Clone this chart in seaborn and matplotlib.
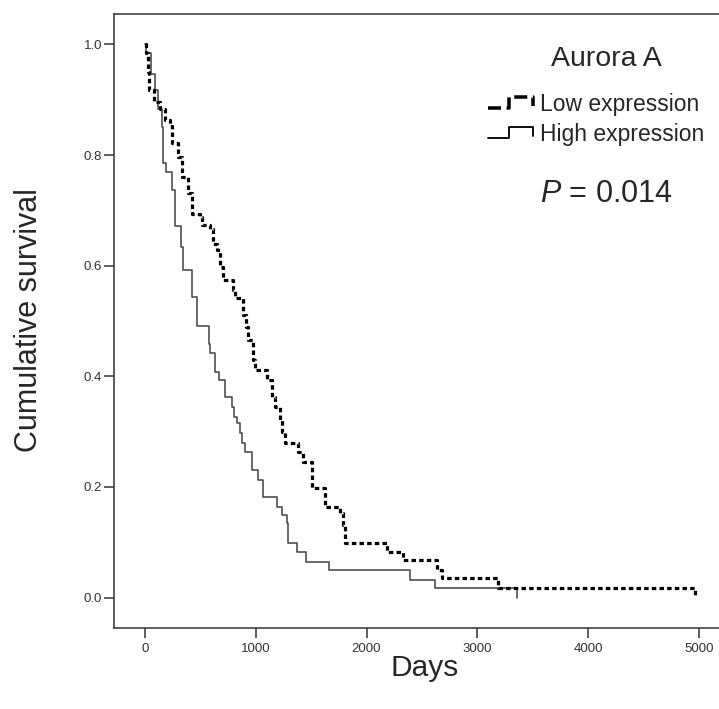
import numpy as np
import pandas as pd
import matplotlib
matplotlib.use("Agg")
import matplotlib.pyplot as plt
import seaborn as sns
from matplotlib.legend_handler import HandlerBase
from matplotlib.lines import Line2D

# ---------------- data ----------------
low_days = [0, 5, 25, 39, 81, 135, 180, 226, 241, 300, 331, 391, 421, 496, 512,
            587, 616, 647, 677, 707, 797, 812, 887, 910, 932, 977, 993, 1098,
            1143, 1173, 1218, 1233, 1264, 1384, 1429, 1504, 1624, 1760, 1790,
            1805, 2181, 2331, 2633, 2678, 3189, 4964]
low_surv = [1.0, 0.984, 0.95, 0.917, 0.896, 0.884, 0.863, 0.852, 0.821, 0.797,
            0.761, 0.731, 0.694, 0.688, 0.673, 0.667, 0.640, 0.628, 0.598, 0.574,
            0.556, 0.541, 0.511, 0.49, 0.466, 0.429, 0.411, 0.393, 0.363, 0.345,
            0.321, 0.300, 0.279, 0.264, 0.246, 0.198, 0.164, 0.152, 0.131, 0.098,
            0.083, 0.068, 0.050, 0.035, 0.017, 0.0]

high_days = [0, 6, 51, 90, 120, 150, 165, 187, 241, 271, 322, 346, 427, 466, 575,
             590, 630, 671, 722, 782, 806, 827, 857, 872, 903, 963, 1023, 1068,
             1188, 1234, 1279, 1294, 1369, 1453, 1663, 2392, 2617, 3360]
high_surv = [1.0, 0.984, 0.947, 0.917, 0.884, 0.851, 0.785, 0.770, 0.737, 0.672,
             0.634, 0.592, 0.544, 0.491, 0.458, 0.442, 0.408, 0.393, 0.363, 0.345,
             0.327, 0.315, 0.297, 0.279, 0.264, 0.231, 0.213, 0.182, 0.164, 0.149,
             0.134, 0.098, 0.083, 0.065, 0.049, 0.032, 0.017, 0.0]

x_ticks = [0, 1000, 2000, 3000, 4000, 5000]
y_ticks = [0.0, 0.2, 0.4, 0.6, 0.8, 1.0]
y_ticklabels = ["0.0", "0.2", "0.4", "0.6", "0.8", "1.0"]

group_labels = ["Low expression", "High expression"]
legend_title = "Aurora A"
p_text = r"$\mathit{P}$ = 0.014"
x_label = "Days"
y_label = "Cumulative survival"

# ---------------- style ----------------
sns.set_theme(style="ticks")
plt.rcParams["font.family"] = ["Liberation Sans", "DejaVu Sans"]
plt.rcParams["mathtext.fontset"] = "custom"
plt.rcParams["mathtext.rm"] = "Liberation Sans"
plt.rcParams["mathtext.it"] = "Liberation Sans:italic"

W, H = 719, 709
fig = plt.figure(figsize=(W / 100, H / 100), dpi=100)
ax = fig.add_axes([114 / W, (H - 628) / H, (732 - 114) / W, (628 - 14) / H])

df_low = pd.DataFrame({"Days": low_days, "Survival": low_surv})
df_high = pd.DataFrame({"Days": high_days, "Survival": high_surv})

sns.lineplot(data=df_high, x="Days", y="Survival", ax=ax, estimator=None,
             sort=False, drawstyle="steps-post", color="#505050", lw=1.2)
sns.lineplot(data=df_low, x="Days", y="Survival", ax=ax, estimator=None,
             sort=False, drawstyle="steps-post", color="black", lw=2.3,
             dashes=(1.4, 1.0))

ax.set_xlim(-280, 5300)
ax.set_ylim(-0.055, 1.055)
ax.set_xticks(x_ticks)
ax.set_xticklabels([str(t) for t in x_ticks])
ax.set_yticks(y_ticks)
ax.set_yticklabels(y_ticklabels)
ax.set_xlabel("")
ax.set_ylabel("")

for s in ax.spines.values():
    s.set_linewidth(1.1)
    s.set_color("#333333")
ax.tick_params(axis="both", direction="out", length=7.5, width=1.1,
               color="#333333", labelsize=9.5, labelcolor="#333333")
ax.tick_params(axis="y", pad=1)
ax.tick_params(axis="x", pad=3)

fig.text(425 / W, 1 - 668 / H, x_label, ha="center", va="center", fontsize=21.5)
fig.text(29 / W, 1 - 320 / H, y_label, ha="center", va="center",
         rotation=90, fontsize=22)

# ---------------- legend with step-shaped keys ----------------
class StepHandler(HandlerBase):
    def create_artists(self, legend, orig_handle, xdescent, ydescent,
                       width, height, fontsize, trans):
        x0 = -xdescent
        xm = x0 + 0.48 * width
        x1 = x0 + width
        y0 = -ydescent
        xs = [x0, xm, xm, x1, x1]
        ys = [y0 + 0.2 * height, y0 + 0.2 * height, y0 + 0.85 * height,
              y0 + 0.85 * height, y0 + 0.3 * height]
        ln = Line2D(xs, ys, color="black",
                    lw=orig_handle.get_linewidth() * 1.1,
                    linestyle=orig_handle.get_linestyle())
        ln.set_transform(trans)
        return [ln]

lines = ax.get_lines()
high_line, low_line = lines[0], lines[1]
handles = [low_line, high_line]
leg = ax.legend(handles, group_labels, loc="upper left",
                bbox_to_anchor=(488 / W, 1 - 93 / H),
                bbox_transform=fig.transFigure, frameon=False,
                fontsize=16.5, handlelength=1.95, handletextpad=0.33,
                labelspacing=0.3, borderpad=0, borderaxespad=0,
                handler_map={low_line: StepHandler(), high_line: StepHandler()})

fig.text(606 / W, 1 - 59 / H, legend_title, ha="center", va="center", fontsize=20.5)
fig.text(540 / W, 1 - 194 / H, p_text, ha="left", va="center", fontsize=22)

fig.savefig("out.png", dpi=100)
